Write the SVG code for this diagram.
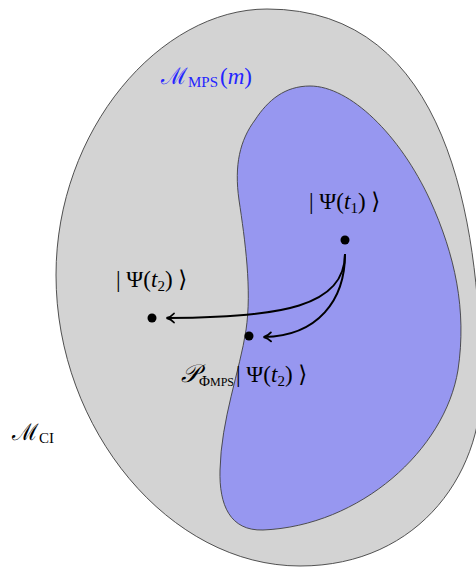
<svg xmlns="http://www.w3.org/2000/svg" width="476" height="567" viewBox="0 0 476 567">
<style>
.region{stroke:#404040;stroke-width:0.9}
.t{font-family:"Liberation Serif","DejaVu Serif",serif;font-size:23px;fill:#000}
.sub{font-size:15px}
.arr{fill:none;stroke:#000;stroke-width:2}
.dot{fill:#000}
</style>
<defs>
<marker id="ah" markerWidth="12" markerHeight="12" refX="9" refY="6" orient="auto" markerUnits="userSpaceOnUse">
<path d="M2 1.5 Q5 5 9.5 6 Q5 7 2 10.5" fill="none" stroke="#000" stroke-width="1.8" stroke-linecap="round"/>
</marker>
</defs>
<rect width="476" height="567" fill="#fff"/>
<g id="ci">
<path class="region" fill="#d3d3d3" d="M267 9 C160 9 56 130 56 275 C56 430 170 566 300 566 C420 566 488 470 481 370 C478 225 450 9 267 9 Z"/>
</g>
<g id="mps">
<path class="region" fill="#9797f0" d="M310 86 C350 86 400 135 430 200 C455 255 467 310 458 370 C445 450 360 526 263 530 C230 531 219 505 220 470 C221 420 240 370 246 330 C252 290 245 240 239 200 C234 165 240 140 255 120 C268 100 285 86 310 86 Z"/>
</g>
<g id="label-mps">
<text class="t" x="161" y="84" style="fill:#2525ff">ℳ<tspan class="sub" dy="3">MPS</tspan><tspan dy="-3" dx="2">(<tspan font-style="italic">m</tspan>)</tspan></text>
</g>
<g id="label-ci">
<text class="t" x="12" y="440">ℳ<tspan class="sub" dy="3">CI</tspan></text>
</g>
<g id="psi1">
<circle class="dot" cx="345" cy="240" r="4.5"/>
<text class="t" x="309" y="209">| Ψ(<tspan font-style="italic">t</tspan><tspan class="sub" dy="4">1</tspan><tspan dy="-4">) ⟩</tspan></text>
</g>
<g id="psi2">
<circle class="dot" cx="152" cy="318" r="4.5"/>
<text class="t" x="116" y="287">| Ψ(<tspan font-style="italic">t</tspan><tspan class="sub" dy="4">2</tspan><tspan dy="-4">) ⟩</tspan></text>
</g>
<g id="proj">
<circle class="dot" cx="249" cy="336" r="4.5"/>
<text class="t" x="181" y="382"><tspan font-style="italic" font-size="25">𝒫</tspan><tspan class="sub" dy="4" font-size="16">Φ<tspan font-size="12">MPS</tspan></tspan><tspan dy="-4" dx="2">| Ψ(<tspan font-style="italic">t</tspan></tspan><tspan class="sub" dy="4">2</tspan><tspan dy="-4">) ⟩</tspan></text>
</g>
<g id="connectors">
<path class="arr" d="M345 254 C345 306 282 318 167 318" marker-end="url(#ah)"/>
<path class="arr" d="M345 254 C345 300 318 336 264 337" marker-end="url(#ah)"/>
</g>
</svg>
